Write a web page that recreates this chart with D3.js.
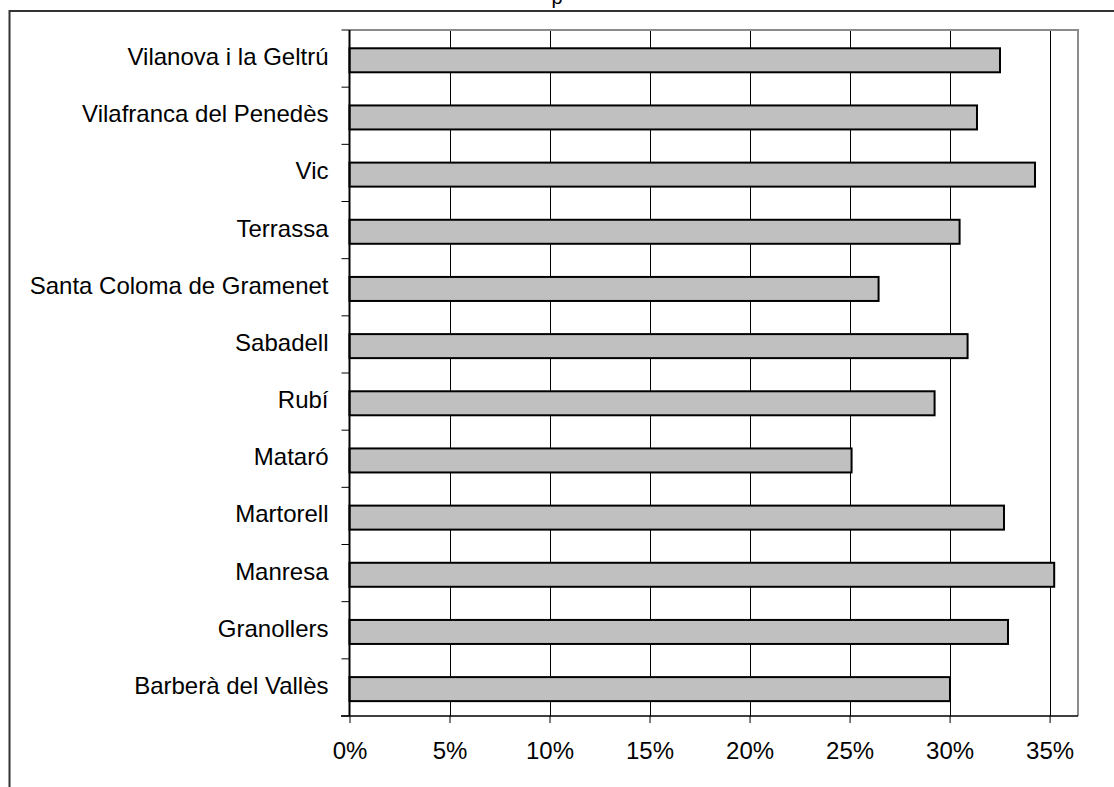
<!DOCTYPE html>
<html>
<head>
<meta charset="utf-8">
<script src="https://cdn.jsdelivr.net/npm/d3@7"></script>
<style>
  html, body { margin: 0; padding: 0; background: #fff; }
  svg { display: block; }
  text { font-family: "Liberation Sans", Arial, sans-serif; fill: #000; }
</style>
</head>
<body>
<svg id="chart" width="1114" height="787"></svg>
<script>
const categories = [
  "Vilanova i la Geltrú",
  "Vilafranca del Penedès",
  "Vic",
  "Terrassa",
  "Santa Coloma de Gramenet",
  "Sabadell",
  "Rubí",
  "Mataró",
  "Martorell",
  "Manresa",
  "Granollers",
  "Barberà del Vallès"
];
const values = [0.3252, 0.3137, 0.3427, 0.3050, 0.2645, 0.3090, 0.2925, 0.2510, 0.3272, 0.3523, 0.3292, 0.3002];
const xTicks = [0, 0.05, 0.10, 0.15, 0.20, 0.25, 0.30, 0.35];
const titleText = "p";

const svg = d3.select("#chart");
const W = 1114, H = 787;
const plot = { left: 349.5, right: 1078, top: 30, bottom: 716 };

// partial title, cut at top edge
svg.append("text")
  .attr("x", 557).attr("y", 4)
  .attr("text-anchor", "middle")
  .style("font-size", "20px")
  .text(titleText);

// outer chart frame (left and top edges visible)
svg.append("path")
  .attr("d", `M9.5,${H} L9.5,11 L${W},11`)
  .attr("fill", "none").attr("stroke", "#333").attr("stroke-width", 2);

const x = d3.scaleLinear().domain([0, 0.3642]).range([plot.left, plot.right]);
const y = d3.scaleBand().domain(categories).range([plot.top, plot.bottom]).paddingInner(0.58).paddingOuter(0.29);

// gridlines
svg.append("g").selectAll("line")
  .data(xTicks.filter(d => d > 0))
  .join("line")
  .attr("x1", d => Math.round(x(d)) + 0.5).attr("x2", d => Math.round(x(d)) + 0.5)
  .attr("y1", plot.top).attr("y2", plot.bottom)
  .attr("stroke", "#000").attr("stroke-width", 1);

// plot area border top/right (gray)
svg.append("path")
  .attr("d", `M${plot.left},${plot.top} L${plot.right},${plot.top} L${plot.right},${plot.bottom}`)
  .attr("fill", "none").attr("stroke", "#8c8c8c").attr("stroke-width", 2);

// bars
svg.append("g").selectAll("rect")
  .data(categories.map((c, i) => ({ c, v: values[i] })))
  .join("rect")
  .attr("x", x(0))
  .attr("y", d => y(d.c) + 1.7)
  .attr("width", d => x(d.v) - x(0))
  .attr("height", y.bandwidth())
  .attr("fill", "#c0c0c0")
  .attr("stroke", "#000").attr("stroke-width", 2);

// x axis
const xAxis = d3.axisBottom(x)
  .tickValues(xTicks)
  .tickFormat(d3.format(".0%"))
  .tickSize(7).tickSizeOuter(0).tickPadding(19);
const gx = svg.append("g").attr("transform", `translate(0,${plot.bottom})`).call(xAxis);
gx.select(".domain").remove();
gx.append("line").attr("x1", 341).attr("x2", plot.right).attr("y1", 0).attr("y2", 0)
  .attr("stroke", "#000").attr("stroke-width", 1.5);
gx.selectAll(".tick line").attr("stroke", "#000").attr("stroke-width", 1);
gx.selectAll(".tick text").style("font-size", "24px").attr("fill", "#000")
  .style("font-family", "'Liberation Sans', Arial, sans-serif");

// y axis
const yAxis = d3.axisLeft(y).tickSize(0).tickPadding(21);
const gy = svg.append("g").attr("transform", `translate(${plot.left},0)`).call(yAxis);
gy.select(".domain").remove();
gy.append("line").attr("x1", 0).attr("x2", 0).attr("y1", plot.top).attr("y2", plot.bottom)
  .attr("stroke", "#000").attr("stroke-width", 2);
gy.selectAll(".tick text").style("font-size", "24px").attr("fill", "#000")
  .attr("dy", "0.27em")
  .style("font-family", "'Liberation Sans', Arial, sans-serif");

// category boundary ticks
const boundaries = d3.range(categories.length + 1).map(i => plot.top + i * (plot.bottom - plot.top) / categories.length);
gy.append("g").selectAll("line").data(boundaries).join("line")
  .attr("x1", -8).attr("x2", 0)
  .attr("y1", d => d).attr("y2", d => d)
  .attr("stroke", "#000").attr("stroke-width", 1);
</script>
</body>
</html>
